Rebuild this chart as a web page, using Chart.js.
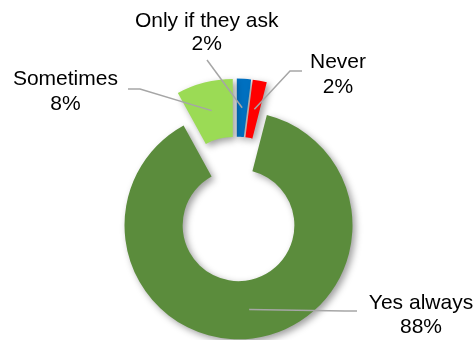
<!DOCTYPE html>
<html><head><meta charset="utf-8">
<script src="https://cdn.jsdelivr.net/npm/chart.js@4/dist/chart.umd.min.js"></script>
<style>html,body{margin:0;padding:0;background:#fff;overflow:hidden}#wrap{width:475px;height:340px}</style>
</head><body><div id="wrap"><canvas id="c" width="475" height="340"></canvas></div>
<script>
// ---- data ----
const categories = ['Only if they ask', 'Never', 'Yes always', 'Sometimes'];
const values = [2, 2, 88, 8];

// ---- styles / layout ----
const sliceColors = ['#0070C0', '#FF0000', '#5B8C3C', '#9BDB55'];
const explode = [13, 13, 20, 13];
const labelLayout = [
  {x: 206.7, y1: 27, y2: 50, path: [[207, 60]]},
  {x: 338, y1: 68, y2: 93, path: [[302, 71], [290, 71]]},
  {x: 421, y1: 309, y2: 333, path: [[357, 311], [345, 311]]},
  {x: 65.4, y1: 85, y2: 110, path: [[128, 89], [140, 89]]}
];

const explodePlugin = {
  id: 'explode',
  afterDatasetUpdate(chart, args) {
    const meta = chart.getDatasetMeta(args.index);
    meta.data.forEach((el, i) => {
      const mid = (el.startAngle + el.endAngle) / 2;
      const d = explode[i] || 0;
      el.x += Math.cos(mid) * d;
      el.y += Math.sin(mid) * d;
    });
  }
};

const shadowPlugin = {
  id: 'shadow',
  beforeDatasetsDraw(chart) {
    const ctx = chart.ctx;
    ctx.save();
    ctx.shadowColor = 'rgba(0,0,0,0.38)';
    ctx.shadowBlur = 7;
    ctx.shadowOffsetX = 3;
    ctx.shadowOffsetY = 3;
  },
  afterDatasetsDraw(chart) { chart.ctx.restore(); }
};

const labelPlugin = {
  id: 'outLabels',
  afterDraw(chart) {
    const ctx = chart.ctx;
    const meta = chart.getDatasetMeta(0);
    const total = values.reduce((a, b) => a + b, 0);
    meta.data.forEach((el, i) => {
      const L = labelLayout[i];
      const mid = (el.startAngle + el.endAngle) / 2;
      const r = (el.innerRadius + el.outerRadius) / 2;
      const ax = el.x + Math.cos(mid) * r;
      const ay = el.y + Math.sin(mid) * r;
      ctx.save();
      ctx.strokeStyle = '#A6A6A6';
      ctx.lineWidth = 1.5;
      ctx.beginPath();
      L.path.forEach((p, k) => k === 0 ? ctx.moveTo(p[0], p[1]) : ctx.lineTo(p[0], p[1]));
      ctx.lineTo(ax, ay);
      ctx.stroke();
      ctx.fillStyle = '#000';
      ctx.font = '21px "Liberation Sans", Arial, sans-serif';
      ctx.textAlign = 'center';
      ctx.textBaseline = 'alphabetic';
      ctx.fillText(categories[i], L.x, L.y1);
      ctx.fillText(Math.round(values[i] / total * 100) + '%', L.x, L.y2);
      ctx.restore();
    });
  }
};

new Chart(document.getElementById('c'), {
  type: 'doughnut',
  data: {
    labels: categories,
    datasets: [{
      data: values,
      backgroundColor: sliceColors,
      borderWidth: 0,
      clip: false
    }]
  },
  options: {
    responsive: false,
    devicePixelRatio: 1,
    animation: false,
    events: [],
    radius: 114,
    cutout: '49%',
    layout: {padding: {left: 0, right: 3, top: 71, bottom: 0}},
    plugins: {legend: {display: false}, tooltip: {enabled: false}}
  },
  plugins: [explodePlugin, shadowPlugin, labelPlugin]
});
</script>
</body></html>
